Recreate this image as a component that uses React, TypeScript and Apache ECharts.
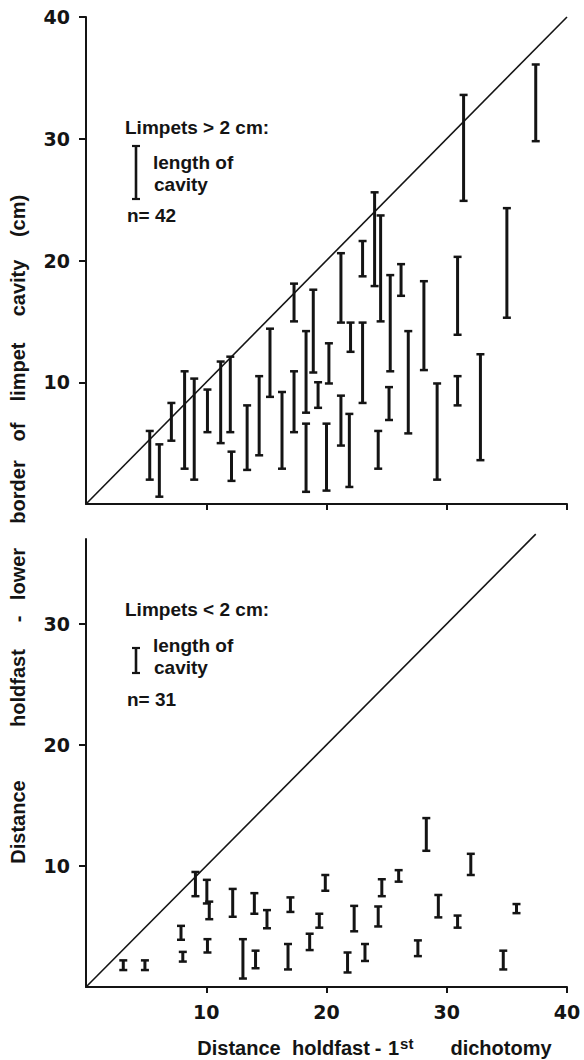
import React, { useEffect, useRef } from "react";
import * as echarts from "echarts";

// ---- Upper panel: limpets > 2 cm (n = 42) ----
const topX = [5.3, 6.1, 7.1, 8.2, 9.0, 10.1, 11.2, 12.0, 12.1, 13.4, 14.4, 15.3, 16.3, 17.3, 17.3, 18.3, 18.9, 18.3, 19.3, 20.0, 20.2, 21.2, 21.2, 21.9, 22.0, 23.0, 23.0, 24.0, 24.5, 24.3, 25.3, 25.2, 26.2, 26.8, 28.1, 29.2, 30.9, 30.9, 31.4, 32.8, 35.0, 37.4];
const topLow = [2.0, 0.6, 5.2, 2.9, 2.0, 5.9, 5.0, 5.9, 1.9, 2.8, 4.0, 8.8, 2.9, 15.0, 5.9, 7.5, 10.8, 1.0, 7.9, 1.1, 9.9, 14.9, 4.8, 1.4, 12.5, 8.3, 18.7, 17.9, 15.0, 2.9, 10.9, 6.9, 17.1, 5.8, 11.0, 2.0, 13.9, 8.1, 24.9, 3.6, 15.3, 29.8];
const topHigh = [6.0, 4.9, 8.3, 10.9, 10.3, 9.4, 11.7, 12.1, 4.3, 8.1, 10.5, 14.4, 9.2, 18.1, 10.9, 14.2, 17.6, 6.6, 10.0, 6.6, 13.2, 20.6, 8.9, 7.4, 14.9, 14.9, 21.6, 25.6, 23.7, 6.0, 18.8, 9.6, 19.7, 14.2, 18.3, 9.9, 20.3, 10.5, 33.6, 12.3, 24.3, 36.1];

// ---- Lower panel: limpets < 2 cm (n = 31) ----
const botX = [3.1, 4.9, 7.9, 8.05, 9.1, 10.05, 10.25, 10.1, 12.2, 13.05, 14.0, 14.1, 15.05, 16.8, 17.0, 18.6, 19.4, 19.9, 21.75, 22.3, 23.2, 24.3, 24.6, 26.0, 27.6, 28.3, 29.3, 30.9, 32.0, 34.7, 35.8];
const botLow = [1.4, 1.4, 3.9, 2.1, 7.5, 6.9, 5.6, 2.85, 5.8, 0.7, 6.05, 1.55, 4.85, 1.45, 6.2, 3.05, 4.9, 7.95, 1.2, 4.6, 2.15, 5.0, 7.5, 8.7, 2.55, 11.25, 5.75, 4.9, 9.25, 1.45, 6.1];
const botHigh = [2.2, 2.2, 5.05, 2.9, 9.5, 8.85, 7.05, 3.95, 8.1, 3.95, 7.75, 3.0, 6.35, 3.55, 7.4, 4.4, 6.05, 9.25, 2.85, 6.7, 3.55, 6.65, 8.9, 9.65, 3.85, 13.95, 7.6, 5.9, 11.0, 3.0, 6.85];

// tick labels
const topYTicks = [10, 20, 30, 40];
const botYTicks = [10, 20, 30];
const xTicks = [10, 20, 30, 40];
const topDiagonal = [[0, 0], [40, 40]];
const botDiagonal = [[0, 0], [37.4, 37.4]];

const INK = "#141414";
const FONT = "DejaVu Sans";
const TFONT = "Liberation Sans";

function renderBar(params: any, api: any) {
  const x = api.value(0);
  const lo = api.value(1);
  const hi = api.value(2);
  const p1 = api.coord([x, lo]);
  const p2 = api.coord([x, hi]);
  const w = 4;
  return {
    type: "group",
    children: [
      { type: "line", shape: { x1: p1[0], y1: p1[1], x2: p2[0], y2: p2[1] }, style: { stroke: INK, lineWidth: 3 } },
      { type: "line", shape: { x1: p1[0] - w, y1: p1[1], x2: p1[0] + w, y2: p1[1] }, style: { stroke: INK, lineWidth: 2.5 } },
      { type: "line", shape: { x1: p2[0] - w, y1: p2[1], x2: p2[0] + w, y2: p2[1] }, style: { stroke: INK, lineWidth: 2.5 } },
    ],
  };
}

function legendBar(x: number, y1: number, y2: number) {
  const w = 4;
  return [
    { type: "line", shape: { x1: x, y1, x2: x, y2 }, style: { stroke: INK, lineWidth: 2.6 } },
    { type: "line", shape: { x1: x - w, y1, x2: x + w, y2: y1 }, style: { stroke: INK, lineWidth: 2.2 } },
    { type: "line", shape: { x1: x - w, y1: y2, x2: x + w, y2 }, style: { stroke: INK, lineWidth: 2.2 } },
  ];
}

function txt(text: string, x: number, y: number, size: number, family: string, align = "left", rotation = 0) {
  return {
    type: "text",
    x,
    y,
    rotation,
    style: { text, fill: INK, font: `bold ${size}px "${family}"`, textAlign: align, textVerticalAlign: "middle" },
  };
}

export default function App() {
  const ref = useRef<HTMLDivElement>(null);
  useEffect(() => {
    if (!ref.current) return;
    const chart = echarts.init(ref.current, null, { renderer: "svg" });

    const axisLine = { show: true, onZero: false, lineStyle: { color: INK, width: 2 } };
    const xAxisBase = (gridIndex: number, showLabels: boolean) => ({
      type: "value",
      gridIndex,
      min: 0,
      max: 40,
      interval: 10,
      axisLine,
      splitLine: { show: false },
      axisTick: { show: true, customValues: xTicks, length: 6, lineStyle: { color: INK, width: 2 } },
      axisLabel: {
        show: showLabels,
        customValues: xTicks,
        margin: 15,
        color: INK,
        fontSize: 19,
        fontWeight: "bold",
        fontFamily: FONT,
      },
    });
    const yAxisBase = (gridIndex: number, max: number, ticks: number[]) => ({
      type: "value",
      gridIndex,
      min: 0,
      max,
      interval: 10,
      axisLine,
      splitLine: { show: false },
      axisTick: { show: true, customValues: ticks, length: 7, lineStyle: { color: INK, width: 2 } },
      axisLabel: { customValues: ticks, margin: 16, color: INK, fontSize: 19, fontWeight: "bold", fontFamily: FONT },
    });

    const xTitleY = 1048;
    const yTitleX = 18;
    const rot = Math.PI / 2;
    const LS = 19; // legend font size
    const TS = 20; // title font size

    chart.setOption({
      animation: false,
      backgroundColor: "#ffffff",
      grid: [
        { left: 86, right: 17, top: 17, height: 487 },
        { left: 86, right: 17, top: 539, height: 448 },
      ],
      xAxis: [xAxisBase(0, false), xAxisBase(1, true)],
      yAxis: [yAxisBase(0, 40, topYTicks), yAxisBase(1, 37, botYTicks)],
      series: [
        {
          type: "line",
          xAxisIndex: 0,
          yAxisIndex: 0,
          data: topDiagonal,
          symbol: "none",
          lineStyle: { color: INK, width: 1.6 },
          clip: false,
        },
        {
          type: "line",
          xAxisIndex: 1,
          yAxisIndex: 1,
          data: botDiagonal,
          symbol: "none",
          lineStyle: { color: INK, width: 1.6 },
          clip: false,
        },
        {
          type: "custom",
          xAxisIndex: 0,
          yAxisIndex: 0,
          renderItem: renderBar,
          encode: { x: 0, y: [1, 2] },
          data: topX.map((x, i) => [x, topLow[i], topHigh[i]]),
          clip: false,
        },
        {
          type: "custom",
          xAxisIndex: 1,
          yAxisIndex: 1,
          renderItem: renderBar,
          encode: { x: 0, y: [1, 2] },
          data: botX.map((x, i) => [x, botLow[i], botHigh[i]]),
          clip: false,
        },
      ],
      graphic: [
        // upper legend
        txt("Limpets > 2 cm:", 125, 127, LS, TFONT),
        ...legendBar(136, 146, 199),
        txt("length of", 153, 162, LS, TFONT),
        txt("cavity", 154, 184, LS, TFONT),
        txt("n= 42", 127, 215, LS, TFONT),
        // lower legend
        txt("Limpets < 2 cm:", 125, 609, LS, TFONT),
        ...legendBar(136, 648, 673),
        txt("length of", 153, 645, LS, TFONT),
        txt("cavity", 154, 667, LS, TFONT),
        txt("n= 31", 127, 699, LS, TFONT),
        // y axis title (reads bottom to top)
        txt("Distance", yTitleX, 822, TS, TFONT, "center", rot),
        txt("holdfast", yTitleX, 688, TS, TFONT, "center", rot),
        txt("-", yTitleX, 619, TS, TFONT, "center", rot),
        txt("lower", yTitleX, 574, TS, TFONT, "center", rot),
        txt("border", yTitleX, 492, TS, TFONT, "center", rot),
        txt("of", yTitleX, 432, TS, TFONT, "center", rot),
        txt("limpet", yTitleX, 372, TS, TFONT, "center", rot),
        txt("cavity", yTitleX, 288, TS, TFONT, "center", rot),
        txt("(cm)", yTitleX, 216, TS, TFONT, "center", rot),
        // x axis title
        txt("Distance", 239, xTitleY, TS, TFONT, "center"),
        txt("holdfast", 331, xTitleY, TS, TFONT, "center"),
        txt("-", 378, xTitleY, TS, TFONT, "center"),
        {
          type: "text",
          x: 388,
          y: xTitleY,
          style: {
            text: "{n|1}{s|st}",
            fill: INK,
            textVerticalAlign: "middle",
            rich: {
              n: { fontSize: TS, fontWeight: "bold", fontFamily: TFONT, fill: INK, lineHeight: 24 },
              s: { fontSize: 15, fontWeight: "bold", fontFamily: TFONT, fill: INK, verticalAlign: "top", padding: [0, 0, 0, 1] },
            },
          },
        },
        txt("dichotomy", 501, xTitleY, TS, TFONT, "center"),
      ],
    });
    return () => chart.dispose();
  }, []);

  return <div ref={ref} style={{ position: "absolute", left: 0, top: 0, width: 584, height: 1060 }} />;
}
